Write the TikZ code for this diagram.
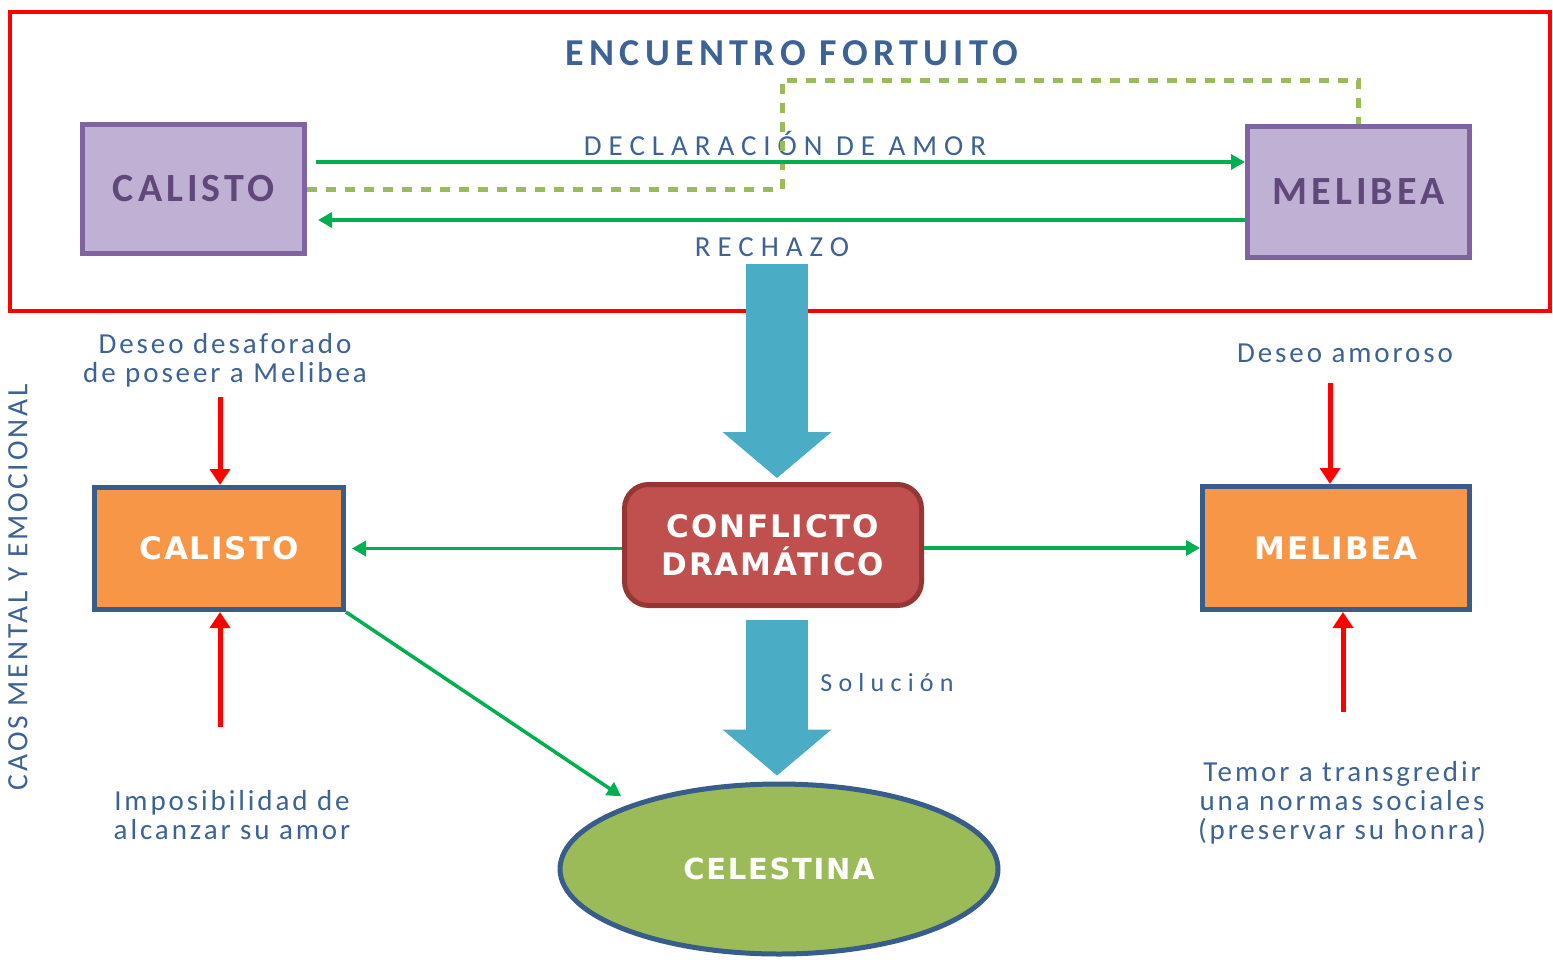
\documentclass[tikz,border=0pt]{standalone}
\usepackage{fontspec}
\setmainfont{Carlito}
\newfontfamily\trackfont[LetterSpace=10]{Carlito}
\newfontfamily\titlefont[LetterSpace=14]{Carlito}
\newfontfamily\widefont[LetterSpace=24]{Carlito}
\newfontfamily\verdfont[LetterSpace=6]{DejaVu Sans}
\usetikzlibrary{arrows.meta,shapes.geometric}

\definecolor{txtblue}{RGB}{60,98,150}
\definecolor{txtpurple}{RGB}{96,73,122}
\definecolor{fillpurple}{RGB}{191,177,212}
\definecolor{linepurple}{RGB}{128,100,162}
\definecolor{linkgreen}{RGB}{0,176,80}
\definecolor{dashgreen}{RGB}{155,187,89}
\definecolor{bigblue}{RGB}{75,172,198}
\definecolor{conflred}{RGB}{192,80,77}
\definecolor{confldark}{RGB}{150,54,52}
\definecolor{fillorange}{RGB}{247,150,70}
\definecolor{lineblue}{RGB}{56,93,138}

\begin{document}
\begin{tikzpicture}[x=1pt,y=1pt,yscale=-1,xscale=1,
  purplebox/.style={draw=linepurple,fill=fillpurple,line width=5pt,inner sep=0pt,text=txtpurple,font=\trackfont\bfseries\fontsize{40}{42}\selectfont},
  orangebox/.style={draw=lineblue,fill=fillorange,line width=5pt,inner sep=0pt,text=white,font=\verdfont\bfseries\fontsize{31}{34}\selectfont},
  labeltext/.style={text=txtblue,align=center,font=\trackfont\fontsize{29}{29}\selectfont},
  arrowlabel/.style={text=txtblue,font=\widefont\fontsize{29}{30}\selectfont},
  greenlink/.style={draw=linkgreen,line width=3.5pt,-{Triangle[length=14pt,width=15pt]}},
  redlink/.style={draw=red,line width=5pt,-{Triangle[length=16pt,width=20pt]}},
  biglink/.style={draw=bigblue,line width=62pt,-{Triangle[length=46pt,width=109pt,line width=0pt]}},
  dashlink/.style={draw=dashgreen,line width=5pt,dash pattern=on 10pt off 9pt}]
\useasboundingbox (0,0) rectangle (1553,959);

%Shape: Rectangle
\draw [red,line width=4.5pt] (10,12) rectangle (1550,311);

% Text Node
\node [text=txtblue,font=\titlefont\bfseries\fontsize{38}{40}\selectfont] (title) at (792,53) {ENCUENTRO FORTUITO};

%Shape: Rectangle
\node [purplebox,minimum width=222pt,minimum height=129pt] (calisto1) at (193.5,189) {CALISTO};
%Shape: Rectangle
\node [purplebox,minimum width=222pt,minimum height=131pt] (melibea1) at (1358.5,192) {MELIBEA};

% Text Node
\node [arrowlabel] (decl) at (785,143) {DECLARACIÓN DE AMOR};
% Text Node
\node [arrowlabel] (rechazo) at (772,247) {RECHAZO};

%Straight Lines
\draw [dashlink] (calisto1.east) -| (782,80) -| (melibea1.north);

%Straight Lines
\coordinate (declstart) at (316,162);
\draw [greenlink] (declstart) -- (declstart -| melibea1.west);
%Straight Lines
\coordinate (rechend) at (318,220);
\draw [greenlink] (rechend -| melibea1.west) -- (rechend);

%Shape: Rounded Rectangle
\node [draw=confldark,fill=conflred,line width=5pt,rounded corners=24pt,inner sep=0pt,minimum width=297pt,minimum height=121pt,text=white,align=center,font=\verdfont\bfseries\fontsize{31}{38}\selectfont] (conflicto) at (773,545) {CONFLICTO\\DRAMÁTICO};

%Shape: Rectangle
\node [orangebox,minimum width=249pt,minimum height=122pt] (calisto2) at (219,548.5) {CALISTO};
%Shape: Rectangle
\node [orangebox,minimum width=267pt,minimum height=123pt] (melibea2) at (1336,548) {MELIBEA};

%Shape: Ellipse
\node [ellipse,draw=lineblue,fill=dashgreen,line width=5pt,inner sep=0pt,minimum width=438pt,minimum height=170pt,text=white,font=\verdfont\bfseries\fontsize{29}{32}\selectfont] (celestina) at (779,869) {CELESTINA};

% Text Node
\node [labeltext] (deseo1) at (225,360) {Deseo desaforado\\de poseer a Melibea};
% Text Node
\node [labeltext] (imposib) at (232,815) {Imposibilidad de\\alcanzar su amor};
% Text Node
\node [labeltext] (deseo2) at (1345,353) {Deseo amoroso};
% Text Node
\node [labeltext] (temor) at (1342,803) {Temor a transgredir\\una normas sociales\\(preservar su honra)};
% Text Node
\node [text=txtblue,rotate=90,font=\trackfont\fontsize{29.5}{30}\selectfont] (caos) at (18,587) {CAOS MENTAL Y EMOCIONAL};
% Text Node
\node [arrowlabel,font=\widefont\fontsize{26}{30}\selectfont] (solucion) at (887,683) {Solución};

%Block Arrows
\coordinate (flow) at (777,0);
\draw [biglink,shorten <=4pt,shorten >=4pt] (flow |- rechazo.south) -- (flow |- conflicto.north);
\draw [biglink,shorten <=12pt,shorten >=6pt] (flow |- conflicto.south) -- (flow |- celestina.north);

%Straight Lines
\draw [greenlink,shorten >=6pt] (conflicto.west |- calisto2) -- (calisto2.east);
\draw [greenlink] (conflicto.east |- melibea2) -- (melibea2.west);
\draw [greenlink,shorten >=13pt] (calisto2.south east) -- (celestina.156);

%Straight Lines
\coordinate (c2in) at (220,397);
\draw [redlink] (c2in) -- (c2in |- calisto2.north);
\coordinate (c2out) at (220,727);
\draw [redlink] (c2out) -- (c2out |- calisto2.south);
\coordinate (m2in) at (1330,383);
\draw [redlink] (m2in) -- (m2in |- melibea2.north);
\coordinate (m2out) at (1343,712);
\draw [redlink] (m2out) -- (m2out |- melibea2.south);
\end{tikzpicture}
\end{document}
